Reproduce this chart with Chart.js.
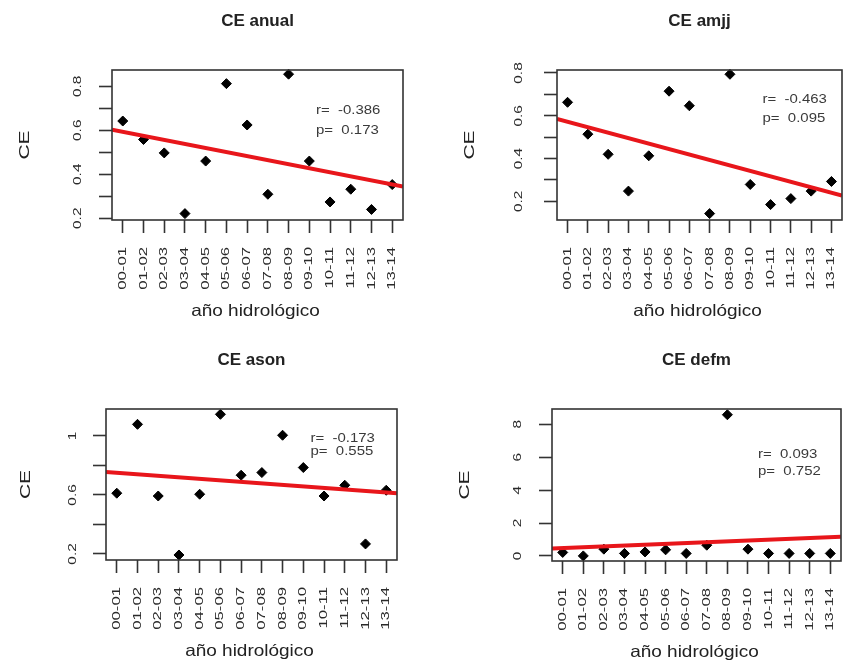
<!DOCTYPE html>
<html>
<head>
<meta charset="utf-8">
<script src="https://cdn.jsdelivr.net/npm/chart.js@4.4.1/dist/chart.umd.min.js"></script>
<style>
    html, body { margin: 0; padding: 0; background: #fff; }
    #wrap { position: relative; width: 846px; height: 665px; overflow: hidden; }
    #wrap canvas { position: absolute; left: 0; top: 0; }
</style>
</head>
<body>
<div id="wrap">
    <canvas id="cAnual" width="848" height="665"></canvas>
    <canvas id="cAmjj" width="848" height="665"></canvas>
    <canvas id="cAson" width="848" height="665"></canvas>
    <canvas id="cDefm" width="848" height="665"></canvas>
</div>
<script>
// años hidrológicos (eje x)
const xLabels = ['00-01', '01-02', '02-03', '03-04', '04-05', '05-06', '06-07',
                 '07-08', '08-09', '09-10', '10-11', '11-12', '12-13', '13-14'];
const xPos = [1, 2, 3, 4, 5, 6, 7, 8, 9, 10, 11, 12, 13, 14];
const xRange = [0.48, 14.52];

// valores de CE por periodo
const ceAnual = [0.642, 0.558, 0.497, 0.221, 0.46, 0.812, 0.624, 0.309, 0.855, 0.46, 0.274, 0.332, 0.24, 0.353];
const ceAmjj  = [0.663, 0.514, 0.42, 0.248, 0.413, 0.715, 0.647, 0.143, 0.794, 0.279, 0.185, 0.213, 0.248, 0.293];
const ceAson  = [0.612, 1.079, 0.593, 0.193, 0.605, 1.147, 0.734, 0.752, 1.005, 0.786, 0.593, 0.666, 0.268, 0.632];
const ceDefm  = [0.21, 0.0, 0.41, 0.15, 0.24, 0.37, 0.15, 0.65, 8.58, 0.41, 0.15, 0.15, 0.15, 0.15];

// recta de regresión: valor en el borde izquierdo y derecho
const fitAnual = [0.603, 0.344];
const fitAmjj  = [0.585, 0.227];
const fitAson  = [0.756, 0.611];
const fitDefm  = [0.45, 1.16];

// textos r / p
const statsAnual = ['r=  -0.386', 'p=  0.173'];
const statsAmjj  = ['r=  -0.463', 'p=  0.095'];
const statsAson  = ['r=  -0.173', 'p=  0.555'];
const statsDefm  = ['r=  0.093', 'p=  0.752'];

// ticks eje y
const yTicksAnual = [0.2, 0.3, 0.4, 0.5, 0.6, 0.7, 0.8];
const yLabelsAnual = ['0.2', '', '0.4', '', '0.6', '', '0.8'];
const yTicksAmjj = [0.2, 0.3, 0.4, 0.5, 0.6, 0.7, 0.8];
const yLabelsAmjj = ['0.2', '', '0.4', '', '0.6', '', '0.8'];
const yTicksAson = [0.2, 0.4, 0.6, 0.8, 1.0];
const yLabelsAson = ['0.2', '', '0.6', '', '1'];
const yTicksDefm = [0, 2, 4, 6, 8];
const yLabelsDefm = ['0', '2', '4', '6', '8'];

const FONT = '"Liberation Sans", Arial, sans-serif';
const CW = 848, CH = 665;

// texto con giro y estirado opcional (el original está reescalado)
function drawText(ctx, text, x, y, o) {
    ctx.save();
    ctx.translate(x, y);
    if (o.rot) ctx.rotate(o.rot);
    ctx.scale(o.sx || 1, 1);
    ctx.font = o.font;
    ctx.fillStyle = o.color || '#222';
    ctx.textAlign = o.align || 'center';
    ctx.textBaseline = o.base || 'alphabetic';
    ctx.fillText(text, 0, 0);
    ctx.restore();
}

// caja, títulos y etiquetas al estilo de R base
const rStyle = {
    id: 'rStyle',
    afterDraw(chart, args, o) {
        const ctx = chart.ctx;
        const a = chart.chartArea;
        const xs = chart.scales.x, ys = chart.scales.y;
        const cx = (a.left + a.right) / 2;
        const up = -Math.PI / 2;

        ctx.save();
        ctx.strokeStyle = '#333';
        ctx.lineWidth = 1.6;
        ctx.strokeRect(a.left, a.top, a.right - a.left, a.bottom - a.top);
        ctx.restore();

        drawText(ctx, o.title, cx, a.top - 44, { font: 'bold 17px ' + FONT, color: '#222' });
        drawText(ctx, 'año hidrológico', cx - 2, a.bottom + 96, { font: '16.5px ' + FONT, sx: 1.15 });
        drawText(ctx, 'CE', a.left - o.yTitleGap, (a.top + a.bottom) / 2,
                 { font: '14.5px ' + FONT, rot: up, sx: 1.45, base: 'middle' });

        o.yTicks.forEach((v, i) => {
            if (!o.yLabels[i]) return;
            drawText(ctx, o.yLabels[i], a.left - o.yTickGap, ys.getPixelForValue(v),
                     { font: '11px ' + FONT, rot: up, sx: 1.4, base: 'middle', color: '#2a2a2a' });
        });
        xPos.forEach((v, i) => {
            drawText(ctx, xLabels[i], xs.getPixelForValue(v), a.bottom + 27,
                     { font: '11px ' + FONT, rot: up, sx: 1.52, align: 'right', base: 'middle', color: '#2a2a2a' });
        });
        o.stats.forEach((s, i) => {
            drawText(ctx, s, a.left + o.statsPos[0], a.top + o.statsPos[1] + i * o.statsPos[2],
                     { font: '13px ' + FONT, sx: 1.15, align: 'left', color: '#3a3a3a' });
        });
    }
};

function makePanel(id, p) {
    const pts = xPos.map((x, i) => ({ x: x, y: p.values[i] }));
    const fit = [{ x: xRange[0], y: p.fit[0] }, { x: xRange[1], y: p.fit[1] }];
    const axisW = 20;
    new Chart(document.getElementById(id), {
        type: 'scatter',
        data: {
            datasets: [
                {
                    type: 'line',
                    data: fit,
                    borderColor: '#e8161b',
                    borderWidth: 4,
                    pointRadius: 0,
                    fill: false
                },
                {
                    data: pts,
                    pointStyle: 'rectRot',
                    pointRadius: 5,
                    backgroundColor: '#000',
                    borderColor: '#000',
                    borderWidth: 1,
                    clip: false
                }
            ]
        },
        options: {
            responsive: false,
            animation: false,
            devicePixelRatio: 1,
            events: [],
            layout: {
                padding: {
                    left: p.box[0] - axisW,
                    right: CW - p.box[1],
                    top: p.box[2],
                    bottom: CH - p.box[3] - axisW
                }
            },
            plugins: {
                legend: { display: false },
                tooltip: { enabled: false },
                rStyle: {
                    title: p.title,
                    yTicks: p.yTicks,
                    yLabels: p.yLabels,
                    stats: p.stats,
                    statsPos: p.statsPos,
                    yTitleGap: p.yTitleGap,
                    yTickGap: p.yTickGap
                }
            },
            scales: {
                x: {
                    type: 'linear',
                    min: xRange[0],
                    max: xRange[1],
                    afterBuildTicks: s => { s.ticks = xPos.map(v => ({ value: v })); },
                    afterFit: s => { s.height = axisW; },
                    ticks: { display: false },
                    border: { display: false },
                    grid: { drawOnChartArea: false, drawTicks: true, tickLength: 13, tickWidth: 1.6, tickColor: '#333' }
                },
                y: {
                    type: 'linear',
                    min: p.yRange[0],
                    max: p.yRange[1],
                    afterBuildTicks: s => { s.ticks = p.yTicks.map(v => ({ value: v })); },
                    afterFit: s => { s.width = axisW; },
                    ticks: { display: false },
                    border: { display: false },
                    grid: { drawOnChartArea: false, drawTicks: true, tickLength: 13, tickWidth: 1.6, tickColor: '#333' }
                }
            }
        },
        plugins: [rStyle]
    });
}

makePanel('cAnual', {
    title: 'CE anual', values: ceAnual, fit: fitAnual, stats: statsAnual,
    yTicks: yTicksAnual, yLabels: yLabelsAnual, yRange: [0.192, 0.874],
    box: [112, 403, 70, 220], statsPos: [204, 43.5, 20], yTitleGap: 87, yTickGap: 34
});
makePanel('cAmjj', {
    title: 'CE amjj', values: ceAmjj, fit: fitAmjj, stats: statsAmjj,
    yTicks: yTicksAmjj, yLabels: yLabelsAmjj, yRange: [0.113, 0.814],
    box: [557, 847, 70, 220], statsPos: [205.5, 33, 18.5], yTitleGap: 87, yTickGap: 38
});
makePanel('cAson', {
    title: 'CE ason', values: ceAson, fit: fitAson, stats: statsAson,
    yTicks: yTicksAson, yLabels: yLabelsAson, yRange: [0.159, 1.183],
    box: [106, 397, 409, 560], statsPos: [204.5, 32.7, 13.3], yTitleGap: 80, yTickGap: 33.5
});
makePanel('cDefm', {
    title: 'CE defm', values: ceDefm, fit: fitDefm, stats: statsDefm,
    yTicks: yTicksDefm, yLabels: yLabelsDefm, yRange: [-0.31, 8.93],
    box: [552, 841, 409, 561], statsPos: [206, 49.3, 16.7], yTitleGap: 87, yTickGap: 34
});
</script>
</body>
</html>
